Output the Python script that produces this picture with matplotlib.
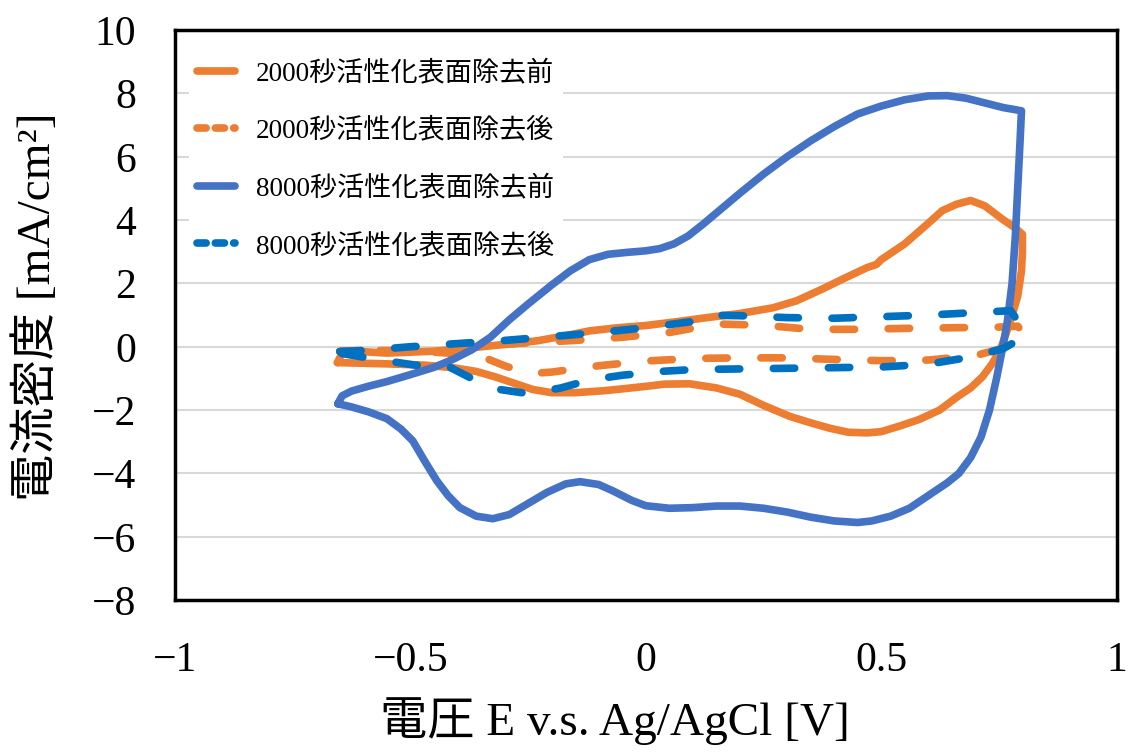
"""
CV curves: 2000 s / 8000 s activation, before / after surface removal.
"""
import matplotlib
matplotlib.use("Agg")
import matplotlib.pyplot as plt
from matplotlib.lines import Line2D

plt.rcParams['font.family'] = ['Liberation Serif', 'Noto Sans CJK JP']

ORANGE = '#ED7D31'
BLUE = '#4472C4'
BLUE_D = '#0070C0'

# ---- data (V vs Ag/AgCl, mA/cm2) ----
v_2000_before = [-0.655, -0.645, -0.63, -0.55, -0.45, -0.38, -0.33, -0.28, -0.23, -0.17,
                 -0.12, -0.06, 0.0, 0.07, 0.13, 0.2, 0.27, 0.32, 0.376, 0.42, 0.47, 0.49,
                 0.5, 0.55, 0.6, 0.63, 0.66, 0.69, 0.72, 0.76, 0.785, 0.80,
                 0.80, 0.798, 0.79, 0.779, 0.765, 0.752, 0.735, 0.715, 0.69, 0.66, 0.624,
                 0.58, 0.54, 0.5, 0.47, 0.43, 0.39, 0.35, 0.306, 0.25, 0.2, 0.15, 0.093,
                 0.04, 0.0, -0.05, -0.09, -0.15, -0.2, -0.24, -0.28, -0.32, -0.36, -0.41,
                 -0.47, -0.55, -0.655]
i_2000_before = [-0.5, -0.2, -0.13, -0.2, -0.14, -0.05, 0.03, 0.1, 0.19, 0.35,
                 0.5, 0.6, 0.67, 0.8, 0.92, 1.05, 1.23, 1.45, 1.83, 2.15, 2.5, 2.6,
                 2.75, 3.25, 3.9, 4.3, 4.5, 4.62, 4.45, 4.0, 3.75, 3.55,
                 3.0, 2.4, 1.6, 1.04, 0.4, -0.13, -0.55, -0.95, -1.3, -1.6, -2.0,
                 -2.3, -2.5, -2.68, -2.72, -2.7, -2.57, -2.4, -2.2, -1.85, -1.5, -1.3, -1.17,
                 -1.18, -1.25, -1.33, -1.39, -1.45, -1.45, -1.35, -1.15, -0.95, -0.78, -0.66,
                 -0.58, -0.54, -0.5]

v_2000_after = [-0.65, -0.55, -0.45, -0.35, -0.25, -0.15, -0.05, 0.05, 0.15, 0.25, 0.35,
                0.45, 0.55, 0.65, 0.75, 0.79, 0.80, 0.77, 0.7, 0.6, 0.5, 0.4, 0.3, 0.2,
                0.1, 0.0, -0.1, -0.2, -0.25, -0.3, -0.35, -0.42, -0.5, -0.6, -0.65]
i_2000_after = [-0.15, -0.08, -0.02, 0.05, 0.12, 0.2, 0.3, 0.45, 0.72, 0.68, 0.55,
                0.55, 0.58, 0.6, 0.62, 0.65, 0.45, 0.0, -0.28, -0.42, -0.44, -0.4, -0.35, -0.35,
                -0.37, -0.45, -0.6, -0.8, -0.85, -0.6, -0.3, -0.2, -0.12, -0.12, -0.15]

v_8000_before = [-0.654, -0.645, -0.625, -0.59, -0.55, -0.5, -0.45, -0.41, -0.37, -0.33,
                 -0.29, -0.25, -0.2, -0.16, -0.12, -0.08, -0.04, 0.0, 0.03, 0.06, 0.09,
                 0.12, 0.16, 0.2, 0.25, 0.3, 0.35, 0.4, 0.45, 0.5, 0.55, 0.6, 0.64, 0.68,
                 0.72, 0.76, 0.78, 0.798,
                 0.795, 0.79, 0.785, 0.778, 0.768, 0.758, 0.745, 0.73, 0.712, 0.69, 0.665,
                 0.64, 0.6, 0.56, 0.52, 0.48, 0.45, 0.4, 0.35, 0.3, 0.25, 0.2, 0.15, 0.1,
                 0.05, 0.0, -0.03, -0.07, -0.1, -0.14, -0.17, -0.21, -0.25, -0.29, -0.325,
                 -0.36, -0.395, -0.42, -0.444, -0.47, -0.495, -0.52, -0.55, -0.59, -0.625,
                 -0.654]
i_8000_before = [-1.8, -1.55, -1.4, -1.25, -1.1, -0.88, -0.65, -0.4, -0.1, 0.3,
                 0.85, 1.35, 1.95, 2.4, 2.75, 2.92, 2.98, 3.03, 3.1, 3.25, 3.5,
                 3.85, 4.35, 4.85, 5.45, 6.0, 6.5, 6.95, 7.35, 7.6, 7.8, 7.92, 7.93, 7.85,
                 7.7, 7.55, 7.5, 7.45,
                 6.5, 5.0, 3.5, 2.0, 0.8, -0.03, -1.0, -2.0, -2.85, -3.5, -4.0,
                 -4.3, -4.7, -5.1, -5.35, -5.5, -5.55, -5.5, -5.38, -5.22, -5.1, -5.03, -5.03, -5.08,
                 -5.1, -5.02, -4.85, -4.55, -4.35, -4.26, -4.33, -4.6, -4.95, -5.3, -5.43,
                 -5.35, -5.08, -4.7, -4.23, -3.6, -2.97, -2.6, -2.27, -2.05, -1.9,
                 -1.8]

v_8000_after = [-0.65, -0.6, -0.5, -0.4, -0.3, -0.2, -0.1, 0.0, 0.1, 0.13, 0.2, 0.3,
                0.4, 0.5, 0.6, 0.7, 0.775, 0.80, 0.79, 0.76, 0.7, 0.6, 0.5, 0.4, 0.3,
                0.2, 0.1, 0.03, -0.05, -0.12, -0.18, -0.25, -0.31, -0.37, -0.42, -0.49,
                -0.58, -0.65]
i_8000_after = [-0.15, -0.12, 0.0, 0.1, 0.2, 0.32, 0.45, 0.6, 0.8, 1.0, 0.98, 0.92,
                0.9, 0.95, 1.0, 1.08, 1.14, 0.6, 0.2, -0.05, -0.3, -0.55, -0.64, -0.66, -0.68,
                -0.7, -0.72, -0.78, -0.9, -1.05, -1.3, -1.48, -1.35, -1.0, -0.62, -0.58,
                -0.38, -0.2]

labels = ['2000秒活性化表面除去前', '2000秒活性化表面除去後',
          '8000秒活性化表面除去前', '8000秒活性化表面除去後']

fig = plt.figure(figsize=(11.29, 7.52), dpi=100)
ax = fig.add_axes([0.155, 0.202, 0.834, 0.758])

LW = 5.5
kw = dict(lw=LW, solid_joinstyle='round', solid_capstyle='round',
          dash_capstyle='round', dash_joinstyle='round')
ax.plot(v_2000_before, i_2000_before, color=ORANGE, **kw)
ax.plot(v_2000_after, i_2000_after, color=ORANGE, dashes=(2.8, 4.4), **kw)
ax.plot(v_8000_before, i_8000_before, color=BLUE, **kw)
ax.plot(v_8000_after, i_8000_after, color=BLUE_D, dashes=(2.8, 4.4), **kw)

ax.set_xlim(-1, 1)
ax.set_ylim(-8, 10)
ax.set_xticks([-1, -0.5, 0, 0.5, 1])
ax.set_xticklabels(['−1', '−0.5', '0', '0.5', '1'])
ax.set_yticks(range(-8, 11, 2))
ax.yaxis.grid(True, color='#D9D9D9', lw=1.5)
ax.set_axisbelow(True)
ax.tick_params(axis='both', length=0, labelsize=30)
ax.tick_params(axis='x', pad=30)
ax.tick_params(axis='y', pad=28)
for s in ax.spines.values():
    s.set_linewidth(2.5)
    s.set_color('black')

ax.set_xlabel('電圧 E v.s. Ag/AgCl [V]', fontsize=34)
ax.xaxis.set_label_coords(0.467, -0.17)
ax.set_ylabel('電流密度 [mA/cm²]', fontsize=34)
ax.yaxis.set_label_coords(-0.122, 0.514)

# legend handles with short dashes like the original
handles = [
    Line2D([], [], color=ORANGE, lw=LW, solid_capstyle='round'),
    Line2D([], [], color=ORANGE, lw=LW, dashes=(1.2, 1.2), dash_capstyle='round'),
    Line2D([], [], color=BLUE, lw=LW, solid_capstyle='round'),
    Line2D([], [], color=BLUE_D, lw=LW, dashes=(1.2, 1.2), dash_capstyle='round'),
]
leg = ax.legend(handles, labels, loc='upper left', bbox_to_anchor=(0.0, 0.985),
                fontsize=19.5, frameon=True, facecolor='white', edgecolor='none',
                framealpha=1, handlelength=1.4, handletextpad=0.8,
                labelspacing=1.17, borderpad=0.3)
leg.get_frame().set_boxstyle('square', pad=0)

fig.savefig('out.png', dpi=100)
